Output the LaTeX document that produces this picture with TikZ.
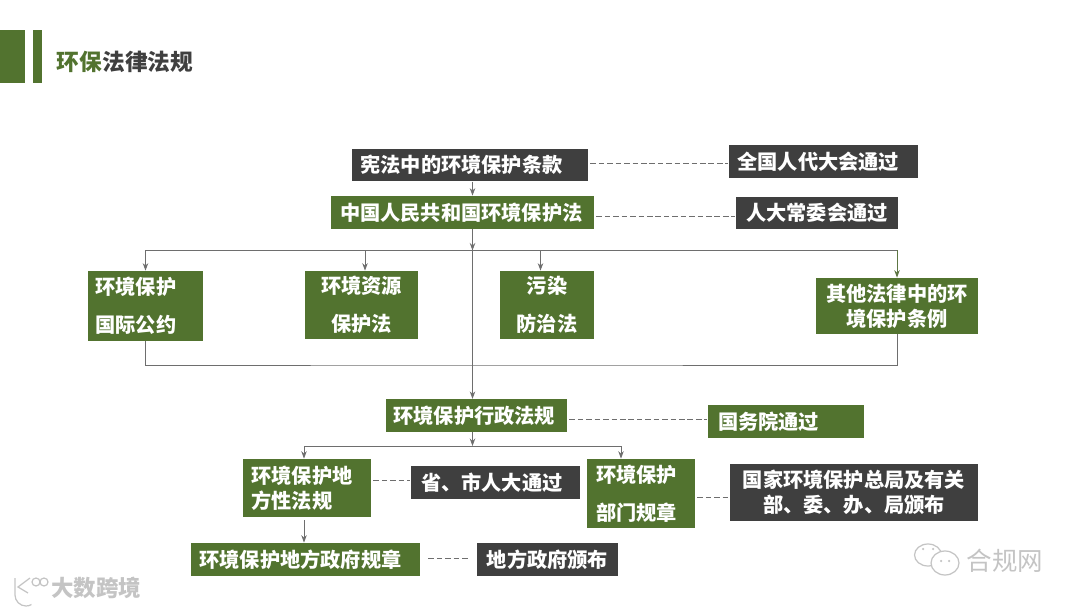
\documentclass[tikz,border=0pt]{standalone}
\usepackage{fontspec}
\setmainfont{Noto Sans CJK SC}
\usepackage{xcolor}
\usetikzlibrary{positioning, arrows.meta, calc}
\definecolor{lawgreen}{HTML}{52732F}
\definecolor{lawdark}{HTML}{3F3F3F}
\definecolor{lawline}{HTML}{6E6E6E}
\definecolor{markgray}{HTML}{C4C4C4}
\tikzset{
  lawbox/.style  ={inner xsep=0pt, inner ysep=0pt, align=center, text=white,
                   font=\fontsize{11.5}{14.2}\selectfont\bfseries},
  greenbox/.style={lawbox, fill=lawgreen},
  darkbox/.style ={lawbox, fill=lawdark},
  sidebox/.style ={greenbox, align=left, inner xsep=.15cm},
  darkside/.style={darkbox, align=left, inner xsep=.17cm},
  flow/.style    ={draw=lawline, line width=.55pt},
  dashlink/.style={draw=lawline, line width=.5pt, dash pattern=on 3.2pt off 1.6pt, shorten <=.04cm, shorten >=.02cm},
  logoline/.style={draw=markgray, line width=.7pt},
}
\begin{document}
\begin{tikzpicture}[>={Stealth[length=1.5mm, width=1.1mm]}]
  \useasboundingbox (0,0) rectangle (21.6,-12.16);
  % title
  \fill[lawgreen] (0,-.6) rectangle (.5,-1.66);
  \fill[lawgreen] (.66,-.6) rectangle (.84,-1.66);
  \node[font=\fontsize{12.9}{15}\selectfont\bfseries, inner sep=0pt] (Tt) at (2.5,-1.24) {\textcolor{lawgreen}{环保}\textcolor{lawdark}{法律法规}};
  % top levels
  \node[darkside, text width=4.38cm, minimum height=.65cm] (Xf) at (9.4,-3.3) {宪法中的环境保护条款};
  \node[darkside, text width=3.44cm, minimum height=.66cm] (Qg) at (16.47,-3.23) {全国人代大会通过};
  \node[sidebox, inner xsep=.18cm, text width=4.9cm, minimum height=.66cm] (Hb) at (9.25,-4.25) {中国人民共和国环境保护法};
  \node[darkbox, minimum width=3.23cm, minimum height=.64cm] (Rd) at (16.34,-4.26) {人大常委会通过};
  \coordinate (Bus1) at (9.45,-5.01);
  % laws
  \node[sidebox, text width=2cm, minimum height=1.4cm] (Gy) at (2.91,-6.12) {环境保护\\[.26cm]国际公约};
  \node[greenbox, minimum width=2.26cm, minimum height=1.36cm] (Zy) at (7.23,-6.1) {环境资源\\[.26cm]保护法};
  \node[greenbox, minimum width=1.88cm, minimum height=1.36cm] (Wr) at (10.94,-6.1) {污染\\[.26cm]防治法};
  \node[greenbox, minimum width=3.24cm, minimum height=1.12cm] (Qt) at (17.94,-6.12) {其他法律中的环\\境保护条例};
  \coordinate (Bus2) at (9.45,-7.3);
  % regulations
  \node[sidebox, text width=3.32cm, minimum height=.65cm] (Xz) at (9.53,-8.31) {环境保护行政法规};
  \node[sidebox, inner xsep=.2cm, text width=2.72cm, minimum height=.66cm] (Gw) at (15.72,-8.43) {国务院通过};
  \coordinate (Bus3) at (9.45,-8.92);
  \node[sidebox, inner xsep=.17cm, text width=2.22cm, minimum height=1.16cm] (Df) at (6.14,-9.76) {环境保护地\\方性法规};
  \node[darkside, inner xsep=.2cm, text width=2.98cm, minimum height=.66cm] (Sr) at (9.91,-9.65) {省、市人大通过};
  \node[sidebox, inner xsep=.18cm, text width=1.8cm, minimum height=1.38cm] (Bm) at (12.82,-9.87) {环境保护\\[.26cm]部门规章};
  \node[darkbox, minimum width=4.96cm, minimum height=1.14cm] (Gj) at (17.08,-9.85) {国家环境保护总局及有关\\部、委、办、局颁布};
  \node[sidebox, inner xsep=.17cm, text width=4.24cm, minimum height=.66cm] (Gz) at (6.11,-11.19) {环境保护地方政府规章};
  \node[darkbox, minimum width=2.82cm, minimum height=.66cm] (Db) at (10.95,-11.19) {地方政府颁布};
  \coordinate (DfDrop) at ([xshift=-.06cm]Df.south);
  % flows
  \draw[flow, ->] (Xf.south -| Bus1) -- (Hb.north -| Bus1);
  \draw[flow, ->] (Hb.south -| Bus1) -- (Bus1);
  \draw[flow, ->] (Bus1) -- (Xz.north -| Bus1);
  \draw[flow, ->] (Bus1) -| (Gy.north);
  \draw[flow, ->] (Bus1) -| ([xshift=.07cm]Zy.north);
  \draw[flow, ->] (Bus1) -| ([xshift=-.13cm]Wr.north);
  \draw[flow] (Bus1) -- (Bus1 -| Qt.north);
  \draw[flow, ->, draw=lawgreen!75!gray] (Bus1 -| Qt.north) -- (Qt.north);
  \draw[flow] (Gy.south) |- (Bus2) -| (Qt.south);
  \draw[flow, ->] (Xz.south -| Bus3) -- (Bus3);
  \draw[flow, ->] (Bus3) -| (DfDrop |- Df.north);
  \draw[flow, ->] (Bus3) -| ([xshift=-.4cm]Bm.north);
  \draw[flow, ->] ([yshift=-.06cm]DfDrop) -- (Gz.north -| DfDrop);
  % dashed links
  \draw[dashlink] ([yshift=.04cm]Xf.east) -- ([yshift=.04cm]Xf.east -| Qg.west);
  \draw[dashlink] ([yshift=-.07cm]Hb.east) -- ([yshift=-.07cm]Hb.east -| Rd.west);
  \draw[dashlink] ([yshift=-.07cm]Xz.east) -- ([yshift=-.07cm]Xz.east -| Gw.west);
  \draw[dashlink] ([yshift=.16cm]Df.east) -- ([yshift=.16cm]Df.east -| Sr.west);
  \draw[dashlink] ([yshift=-.08cm]Bm.east) -- ([yshift=-.08cm]Bm.east -| Gj.west);
  \draw[dashlink, shorten <=.16cm, shorten >=.16cm] ([yshift=.02cm]Gz.east) -- ([yshift=.02cm]Gz.east -| Db.west);
  % marks
  \node[font=\fontsize{12.8}{15}\selectfont\bfseries, text=markgray, inner sep=0pt] (Dk) at (1.92,-11.76) {大数跨境};
  \node[font=\fontsize{14.5}{17}\selectfont, text=markgray, inner sep=0pt] (Hg) at (20.1,-11.22) {合规网};
  \draw[logoline] (.3,-11.56) -- (.3,-11.9) arc (180:300:.22);
  \draw[logoline] (.6,-11.56) -- (.36,-11.74) -- (.56,-11.86);
  \draw[logoline] (.72,-11.64) circle (.08) (.88,-11.64) circle (.08);
  \draw[logoline] (18.56,-11.1) ellipse (.27 and .22);
  \draw[logoline, fill=white] (18.9,-11.26) ellipse (.28 and .24);
  \fill[markgray] (18.82,-11.22) circle (.025) (18.98,-11.22) circle (.025) (18.46,-10.98) circle (.025) (18.66,-10.98) circle (.025);
\end{tikzpicture}
\end{document}
